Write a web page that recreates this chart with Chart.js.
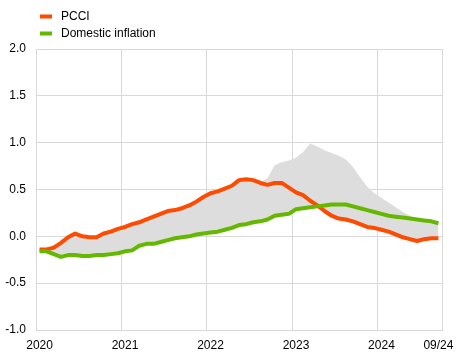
<!DOCTYPE html>
<html>
<head>
<meta charset="utf-8">
<script src="https://cdn.jsdelivr.net/npm/chart.js@4/dist/chart.umd.min.js"></script>
<style>
  html, body { margin: 0; padding: 0; background: #fff; }
  #wrap { width: 473px; height: 355px; }
</style>
</head>
<body>
<div id="wrap"><canvas id="c" width="473" height="355"></canvas></div>
<script>
// Monthly categories Jan 2020 .. Sep 2024
const years = [2020, 2021, 2022, 2023, 2024];
const months = [];
years.forEach(y => { for (let m = 1; m <= 12; m++) { if (y === 2024 && m > 9) break; months.push(y + '-' + String(m).padStart(2, '0')); } });

const tickLabels = { '2020-01': '2020', '2021-01': '2021', '2022-01': '2022', '2023-01': '2023', '2024-01': '2024', '2024-09': '09/24' };

const seriesNames = ['PCCI', 'Domestic inflation'];

const pcci = [
  -0.14, -0.14, -0.12, -0.07, -0.01, 0.03, 0.00, -0.01, -0.01, 0.03, 0.05, 0.08,
  0.10, 0.13, 0.15, 0.18, 0.21, 0.24, 0.27, 0.28, 0.30, 0.33, 0.37, 0.42,
  0.46, 0.48, 0.51, 0.54, 0.60, 0.61, 0.60, 0.57, 0.55, 0.57, 0.57, 0.52,
  0.47, 0.44, 0.38, 0.33, 0.27, 0.22, 0.19, 0.18, 0.16, 0.13, 0.10, 0.09,
  0.07, 0.05, 0.02, -0.01, -0.03, -0.05, -0.03, -0.02, -0.02
];

const domestic = [
  -0.16, -0.16, -0.19, -0.22, -0.20, -0.20, -0.21, -0.21, -0.20, -0.20, -0.19, -0.18,
  -0.16, -0.15, -0.10, -0.08, -0.08, -0.06, -0.04, -0.02, -0.01, 0.00, 0.02, 0.03,
  0.04, 0.05, 0.07, 0.09, 0.12, 0.13, 0.15, 0.16, 0.18, 0.22, 0.23, 0.24,
  0.29, 0.30, 0.31, 0.32, 0.33, 0.34, 0.34, 0.34, 0.32, 0.30, 0.28, 0.26,
  0.24, 0.22, 0.21, 0.20, 0.19, 0.18, 0.17, 0.16, 0.14
];

// Range of measures (shaded band)
const bandHigh = [
  -0.14, -0.14, -0.12, -0.07, -0.01, 0.03, 0.00, -0.01, -0.01, 0.03, 0.05, 0.08,
  0.10, 0.13, 0.15, 0.18, 0.21, 0.24, 0.27, 0.28, 0.30, 0.33, 0.37, 0.42,
  0.46, 0.48, 0.51, 0.54, 0.60, 0.61, 0.60, 0.58, 0.62, 0.76, 0.79, 0.81,
  0.84, 0.90, 0.99, 0.96, 0.92, 0.89, 0.86, 0.82, 0.74, 0.63, 0.53, 0.46,
  0.41, 0.36, 0.31, 0.26, 0.22, 0.19, 0.17, 0.16, 0.15
];
const bandLow = [
  -0.16, -0.16, -0.19, -0.22, -0.20, -0.20, -0.21, -0.21, -0.20, -0.20, -0.19, -0.18,
  -0.16, -0.15, -0.10, -0.08, -0.08, -0.06, -0.04, -0.02, -0.01, 0.00, 0.02, 0.03,
  0.04, 0.05, 0.07, 0.09, 0.12, 0.13, 0.15, 0.16, 0.18, 0.22, 0.23, 0.24,
  0.29, 0.30, 0.31, 0.32, 0.27, 0.22, 0.19, 0.18, 0.16, 0.13, 0.10, 0.09,
  0.07, 0.05, 0.02, -0.01, -0.03, -0.05, -0.03, -0.02, -0.02
];

const yTicks = { min: -1.0, max: 2.0, step: 0.5 };

const ORANGE = '#ff4b00';
const GREEN = '#65b800';
const BAND = '#dddddd';
const GRID = '#d9d9d9';

Chart.defaults.font.family = '"Liberation Sans", Arial, sans-serif';
Chart.defaults.font.size = 12;
Chart.defaults.color = '#000';

const legendPlugin = {
  id: 'stackLegend',
  afterDraw(chart) {
    const ctx = chart.ctx;
    const items = [
      { text: seriesNames[0], color: ORANGE },
      { text: seriesNames[1], color: GREEN }
    ];
    ctx.save();
    ctx.font = '12px "Liberation Sans", Arial, sans-serif';
    ctx.textBaseline = 'middle';
    items.forEach((it, i) => {
      const cy = 16.5 + i * 17;
      ctx.fillStyle = it.color;
      ctx.fillRect(40, cy - 2, 12, 4);
      ctx.fillStyle = '#000';
      ctx.fillText(it.text, 61, cy + 0.5);
    });
    ctx.restore();
  }
};

new Chart(document.getElementById('c'), {
  type: 'line',
  data: {
    labels: months,
    datasets: [
      { label: 'low', data: bandLow, borderWidth: 0, pointRadius: 0, fill: false, order: 10, borderColor: 'transparent' },
      { label: 'high', data: bandHigh, borderWidth: 0, pointRadius: 0, fill: '-1', backgroundColor: BAND, order: 9, borderColor: 'transparent' },
      { label: seriesNames[0], data: pcci, borderColor: ORANGE, borderWidth: 4, pointRadius: 0, fill: false, tension: 0, order: 2, borderJoinStyle: 'round' },
      { label: seriesNames[1], data: domestic, borderColor: GREEN, borderWidth: 4, pointRadius: 0, fill: false, tension: 0, order: 1, borderJoinStyle: 'round' }
    ]
  },
  options: {
    responsive: false,
    animation: false,
    events: [],
    layout: { padding: { top: 49, right: 31, left: 0, bottom: 0 } },
    plugins: { legend: { display: false }, tooltip: { enabled: false } },
    scales: {
      x: {
        type: 'category',
        offset: true,
        grid: {
          offset: true,
          drawTicks: false,
          color: (c) => (c.type !== 'tick' || c.index % 12 === 0) ? GRID : 'transparent',
          lineWidth: 1
        },
        border: { color: GRID },
        ticks: {
          autoSkip: false,
          maxRotation: 0,
          minRotation: 0,
          padding: 8,
          callback: function (val) { const l = this.getLabelForValue(val); return tickLabels[l] || ''; }
        },
        afterFit: (s) => { s.height = 25; }
      },
      y: {
        min: yTicks.min,
        max: yTicks.max,
        grid: { color: GRID, drawTicks: false },
        border: { color: GRID },
        ticks: {
          stepSize: yTicks.step,
          padding: 10,
          callback: (v) => v.toFixed(1)
        },
        afterFit: (s) => { s.width = 36; }
      }
    }
  },
  plugins: [legendPlugin]
});
</script>
</body>
</html>
